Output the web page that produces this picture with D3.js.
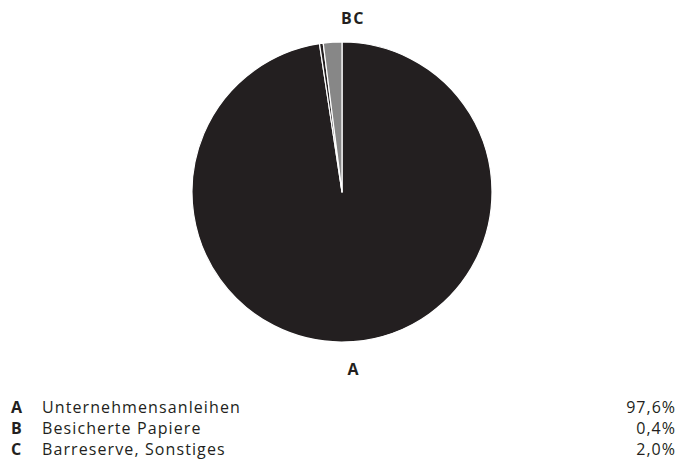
<!doctype html>
<html>
<head>
<meta charset="utf-8">
<style>
    body { margin: 0; background: #fff; }
    text { font-family: "Open Sans", "Noto Sans", sans-serif; fill: #231f20; }
</style>
<script src="https://d3js.org/d3.v7.min.js"></script>
</head>
<body>
<svg width="692" height="463"></svg>
<script>
    var keys = ["A", "B", "C"];
    var names = ["Unternehmensanleihen", "Besicherte Papiere", "Barreserve, Sonstiges"];
    var values = [97.6, 0.4, 2.0];
    var colors = ["#231f20", "#231f20", "#878787"];

    var data = keys.map(function(k, i) {
        return { key: k, name: names[i], value: values[i], color: colors[i] };
    });

    var svg = d3.select("svg"),
        cx = 342, cy = 192, radius = 150;

    var pie = d3.pie().sort(null).value(function(d) { return d.value; });
    var arc = d3.arc().innerRadius(0).outerRadius(radius);

    var g = svg.append("g").attr("transform", "translate(" + cx + "," + cy + ")");

    g.selectAll("path")
     .data(pie(data))
     .enter().append("path")
     .attr("d", arc)
     .attr("fill", function(d) { return d.data.color; })
     .attr("stroke", "#fff")
     .attr("stroke-width", 1.2)
     .attr("stroke-linejoin", "round");

    // slice labels
    svg.append("text")
       .attr("x", 353).attr("y", 24)
       .attr("text-anchor", "middle")
       .attr("font-size", "16px").attr("font-weight", "bold")
       .attr("letter-spacing", "1.5px")
       .text("BC");

    svg.append("text")
       .attr("x", 353).attr("y", 375)
       .attr("text-anchor", "middle")
       .attr("font-size", "16px").attr("font-weight", "bold")
       .text("A");

    // legend
    var y = d3.scalePoint().domain(keys).range([413, 455]);

    var rows = svg.selectAll(".row")
        .data(data)
        .enter().append("g")
        .attr("class", "row")
        .attr("transform", function(d) { return "translate(0," + y(d.key) + ")"; });

    rows.append("text")
        .attr("x", 11)
        .attr("font-size", "16px").attr("font-weight", "bold")
        .text(function(d) { return d.key; });

    rows.append("text")
        .attr("x", 42)
        .attr("font-size", "16px")
        .attr("letter-spacing", "1.1px")
        .text(function(d) { return d.name; });

    rows.append("text")
        .attr("x", 676)
        .attr("text-anchor", "end")
        .attr("font-size", "16px")
        .attr("letter-spacing", "1px")
        .text(function(d) { return d.value.toFixed(1).replace(".", ",") + "%"; });
</script>
</body>
</html>
